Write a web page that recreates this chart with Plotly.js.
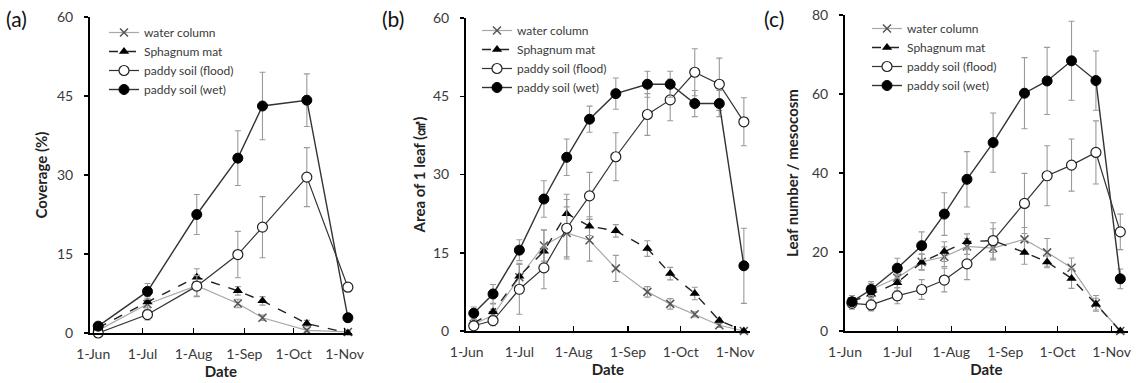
<!DOCTYPE html>
<html>
<head>
<meta charset="utf-8">
<script src="https://cdn.plot.ly/plotly-3.0.1.min.js"></script>
<style>html,body{margin:0;padding:0;background:#fff;}#chart{width:1136px;height:383px;}</style>
</head>
<body>
<div id="chart"></div>
<script>
// ---- Data ----
const seriesNames = ["water column", "Sphagnum mat", "paddy soil (flood)", "paddy soil (wet)"];
const monthTicks = ["2014-06-01", "2014-07-01", "2014-08-01", "2014-09-01", "2014-10-01", "2014-11-01"];
const monthLabels = ["1-Jun", "1-Jul", "1-Aug", "1-Sep", "1-Oct", "1-Nov"];

// Panel (a): Coverage (%)
const datesA = ["2014-06-04", "2014-07-04", "2014-08-03", "2014-08-28", "2014-09-12", "2014-10-09", "2014-11-03"];
const waterA = [0.5, 5.5, 9.0, 5.6, 2.9, 0.5, 0.2];
const waterErrA = [0.3, 1.0, 2.0, 0.8, 0.5, 0.3, 0.2];
const sphA = [1.0, 5.9, 10.6, 8.0, 6.1, 1.8, 0.0];
const sphErrA = [0.5, 1.0, 1.6, 0.8, 0.8, 0.6, 0.2];
const floodA = [0.0, 3.5, 8.9, 14.9, 20.1, 29.6, 8.7];
const floodErrA = [0.3, 1.0, 2.0, 4.4, 5.8, 5.6, 0.8];
const wetA = [1.3, 7.9, 22.5, 33.2, 43.1, 44.2, 2.9];
const wetErrA = [0.5, 1.5, 3.8, 5.2, 6.4, 5.0, 0.8];

// Panels (b) and (c) share sampling dates
const datesBC = ["2014-06-05", "2014-06-16", "2014-07-01", "2014-07-15", "2014-07-28", "2014-08-10", "2014-08-25", "2014-09-12", "2014-09-25", "2014-10-09", "2014-10-23", "2014-11-06"];

// Panel (b): Area of 1 leaf
const waterB = [1.3, 3.0, 10.3, 16.4, 18.8, 17.4, 12.0, 7.5, 5.2, 3.2, 1.1, 0.0];
const waterErrB = [0.6, 1.2, 2.5, 3.0, 5.0, 4.0, 2.5, 1.0, 1.0, 0.5, 0.4, 0.1];
const sphB = [1.5, 3.7, 10.5, 15.3, 22.5, 20.1, 19.2, 15.8, 11.0, 7.2, 2.0, 0.0];
const sphErrB = [0.8, 1.5, 2.5, 4.0, 3.7, 1.8, 1.2, 1.5, 1.2, 1.2, 0.5, 0.1];
const floodB = [1.0, 2.0, 8.0, 12.1, 19.7, 25.9, 33.4, 41.5, 44.3, 49.6, 47.3, 40.1];
const floodErrB = [0.5, 1.0, 4.8, 4.0, 5.5, 4.5, 4.6, 4.0, 4.0, 4.5, 5.0, 4.6];
const wetB = [3.4, 7.1, 15.5, 25.3, 33.3, 40.6, 45.5, 47.3, 47.3, 43.6, 43.6, 12.5];
const wetErrB = [1.2, 1.8, 2.0, 3.5, 3.5, 2.5, 3.0, 2.5, 2.5, 2.5, 2.5, 7.2];

// Panel (c): Leaf number / mesocosm
const waterC = [7.5, 10.5, 13.5, 17.5, 18.8, 21.4, 21.0, 23.2, 19.9, 16.0, 7.0, 0.0];
const waterErrC = [1.5, 2.0, 2.5, 2.0, 2.5, 2.0, 3.0, 3.0, 3.5, 2.5, 2.0, 0.2];
const sphC = [7.5, 9.3, 12.2, 17.4, 20.1, 22.6, 22.9, 19.9, 17.5, 13.3, 6.8, 0.0];
const sphErrC = [1.0, 1.5, 2.0, 2.0, 2.5, 2.0, 3.0, 3.0, 1.5, 2.5, 1.5, 0.2];
const floodC = [7.0, 6.6, 8.9, 10.5, 12.9, 17.0, 22.9, 32.3, 39.3, 42.0, 45.2, 25.1];
const floodErrC = [1.5, 1.5, 2.0, 2.5, 3.0, 4.0, 4.5, 7.6, 7.6, 6.6, 8.0, 4.5];
const wetC = [7.4, 10.5, 15.9, 21.6, 29.6, 38.4, 47.7, 60.2, 63.3, 68.4, 63.4, 13.2];
const wetErrC = [1.0, 1.5, 2.5, 3.5, 5.4, 7.0, 7.5, 9.0, 8.5, 10.0, 7.5, 2.5];

// ---- Styles ----
const W = 1136, H = 383;
const FONT = "Lato, 'Open Sans', 'DejaVu Sans', sans-serif";
const TXT = "#3a3a3a";
const errStyle = {type: "data", color: "#9a9a9a", thickness: 1.1, width: 3};
const styles = [
  {line: {color: "#a8a8a8", width: 1.2}, marker: {symbol: "x-thin", size: 8, line: {color: "#555", width: 1.5}, color: "#555"}},
  {line: {color: "#222", width: 1.4, dash: "dash"}, marker: {symbol: "triangle-up", size: 9, color: "#000"}},
  {line: {color: "#333", width: 1.2}, marker: {symbol: "circle", size: 10, color: "#fff", line: {color: "#222", width: 1.2}}},
  {line: {color: "#333", width: 1.4}, marker: {symbol: "circle", size: 10, color: "#000", line: {color: "#000", width: 1}}}
];

function mk(x, ys, errs, ax, leg) {
  return ys.map((y, i) => ({
    type: "scatter", mode: "lines+markers", x: x, y: y,
    name: seriesNames[i],
    xaxis: "x" + ax, yaxis: "y" + ax, legend: leg,
    line: styles[i].line, marker: styles[i].marker,
    error_y: Object.assign({array: errs[i]}, errStyle),
    cliponaxis: false
  }));
}

const traces = [].concat(
  mk(datesA, [waterA, sphA, floodA, wetA], [waterErrA, sphErrA, floodErrA, wetErrA], "", "legend"),
  mk(datesBC, [waterB, sphB, floodB, wetB], [waterErrB, sphErrB, floodErrB, wetErrB], "2", "legend2"),
  mk(datesBC, [waterC, sphC, floodC, wetC], [waterErrC, sphErrC, floodErrC, wetErrC], "3", "legend3")
);

function px(x) { return x / W; }
function py(y) { return (H - y) / H; }

function xax(l, r, range) {
  return {
    domain: [px(l), px(r)], range: range, type: "date",
    tickvals: monthTicks, ticktext: monthLabels,
    ticks: "inside", ticklen: 5, tickwidth: 1.5, tickcolor: "#000",
    showline: true, linecolor: "#000", linewidth: 2, showgrid: false, zeroline: false,
    tickfont: {family: FONT, size: 14, color: TXT}, ticklabelstandoff: 7,
    title: {text: "<b>Date</b>", font: {family: FONT, size: 15, color: "#222"}, standoff: 4}
  };
}
function yax(b, t, max, dt, title, anchor, so) {
  return {
    domain: [py(b), py(t)], range: [0, max], dtick: dt, anchor: anchor,
    ticks: "outside", ticklen: 4, tickwidth: 1.5, tickcolor: "#000",
    showline: true, linecolor: "#000", linewidth: 2, showgrid: false, zeroline: false,
    tickfont: {family: FONT, size: 14, color: TXT}, ticklabelstandoff: 8,
    title: {text: "<b>" + title + "</b>", font: {family: FONT, size: 15, color: "#222"}, standoff: so}
  };
}
function leg(x, y) {
  return {x: px(x), y: py(y), xanchor: "left", yanchor: "top", bgcolor: "rgba(0,0,0,0)",
          font: {family: FONT, size: 12, color: TXT}, tracegroupgap: 0, itemwidth: 30};
}

const layout = {
  width: W, height: H, margin: {l: 0, r: 0, t: 0, b: 0},
  paper_bgcolor: "#fff", plot_bgcolor: "#fff", showlegend: true,
  xaxis: Object.assign(xax(90, 352, ["2014-05-30", "2014-11-05 12:00"]), {anchor: "y"}),
  yaxis: yax(333, 17, 60, 15, "Coverage (%)", "x", 6),
  xaxis2: Object.assign(xax(466, 750, ["2014-05-31 14:00", "2014-11-09 12:00"]), {anchor: "y2"}),
  yaxis2: yax(331, 18, 60, 15, "Area of 1 leaf (㎠)", "x2", 4),
  xaxis3: Object.assign(xax(845, 1128, ["2014-06-01", "2014-11-10 10:00"]), {anchor: "y3"}),
  yaxis3: yax(331, 15, 80, 20, "Leaf number / mesocosm", "x3", 10),
  legend: leg(104, 18),
  legend2: leg(477, 16),
  legend3: leg(867, 14),
  annotations: [
    {text: "(a)", x: px(4), y: py(4), xref: "paper", yref: "paper", xanchor: "left", yanchor: "top", showarrow: false, font: {family: FONT, size: 21, color: "#111"}},
    {text: "(b)", x: px(380), y: py(4), xref: "paper", yref: "paper", xanchor: "left", yanchor: "top", showarrow: false, font: {family: FONT, size: 21, color: "#111"}},
    {text: "(c)", x: px(762), y: py(4), xref: "paper", yref: "paper", xanchor: "left", yanchor: "top", showarrow: false, font: {family: FONT, size: 21, color: "#111"}}
  ]
};

Plotly.newPlot("chart", traces, layout, {displayModeBar: false, staticPlot: true});
</script>
</body>
</html>
